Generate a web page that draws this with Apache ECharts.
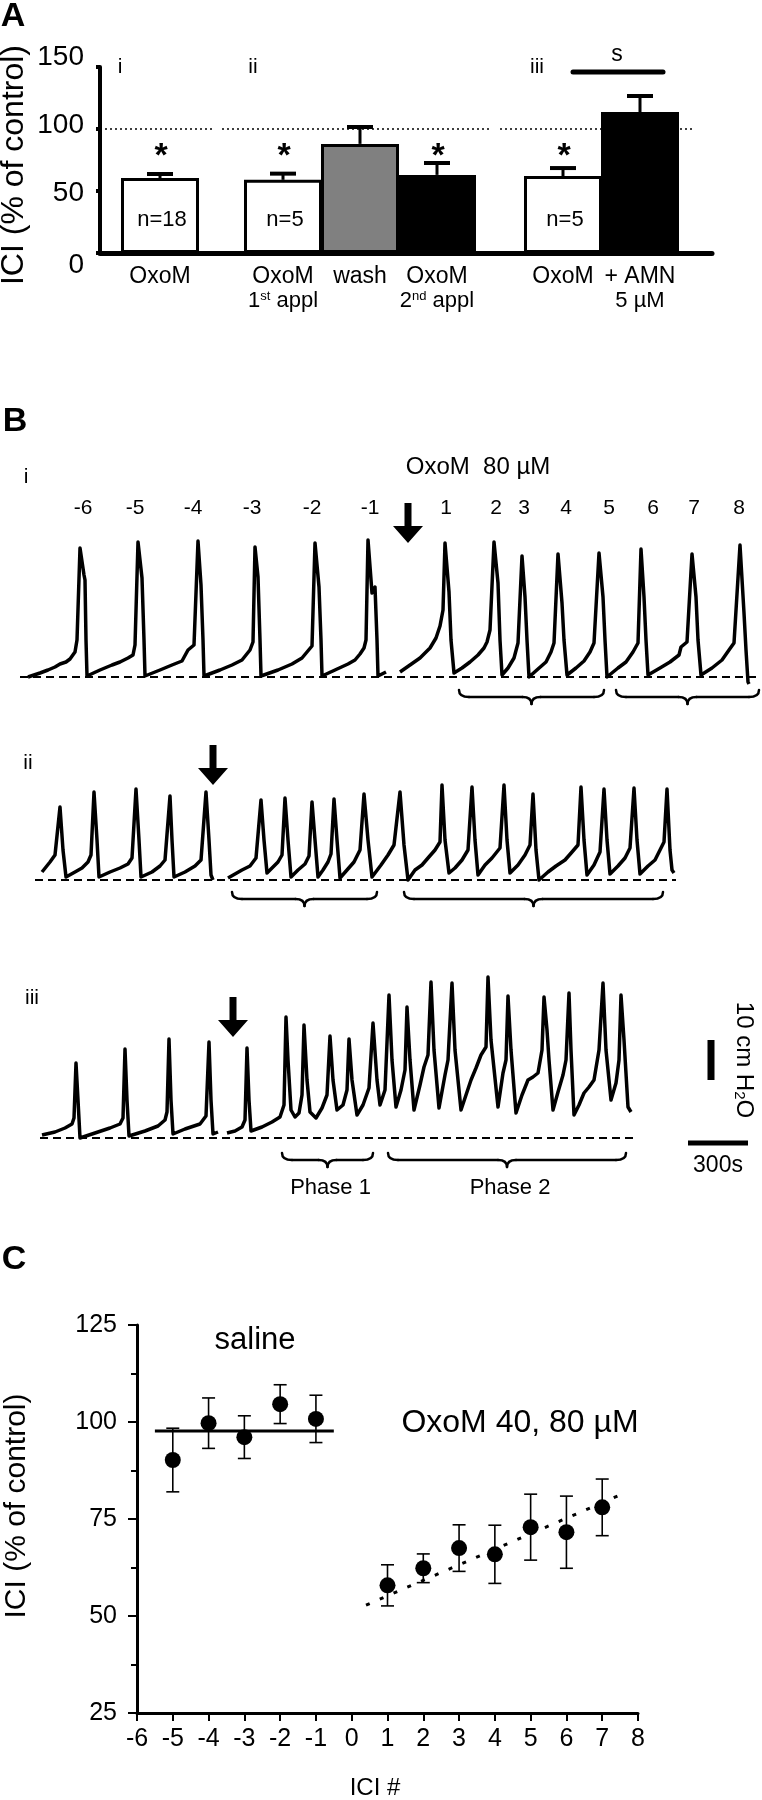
<!DOCTYPE html>
<html><head><meta charset="utf-8">
<script src="https://cdn.jsdelivr.net/npm/echarts@6/dist/echarts.min.js"></script>
<style>html,body{margin:0;padding:0;background:#fff}#c{width:762px;height:1800px}</style>
</head><body><div id="c"></div>
<script>
// ---------------- Panel A data ----------------
const aCategories = ['OxoM', 'OxoM\n1st appl', 'wash', 'OxoM\n2nd appl', 'OxoM', '+ AMN\n5 µM'];
const aMeans = [60.5, 59, 88, 63, 62, 113.7];
const aErrors = [3.2, 5, 13.6, 9.6, 6.5, 12.9];
const aN = ['n=18', 'n=5', '', '', 'n=5', ''];
const aSignificant = [true, true, false, true, true, false];
const aGroups = ['i', 'ii', 'iii'];
const aYTicks = [0, 50, 100, 150];
const aControlLevel = 100;

// ---------------- Panel B data (time s, pressure cmH2O) ----------------
const traceI = [
[40,0],[100,1],[140,1.75],[175,2.5],[200,3.25],[230,3.75],[250,4.5],[275,6.25],[285,9.25],[300,32.25],[320,25.5],[325,24.25],[330,9.25],[335,0.25],
[400,1.75],[460,3],[500,3.75],[540,4.75],[565,5.5],[575,8],[590,33.75],[610,24.75],[620,9.25],[625,0.25],
[700,1.75],[760,3],[810,4],[840,6.75],[870,8],[890,34],[905,23],[915,9.25],[920,0.25],
[1000,1.75],[1060,3],[1110,4.25],[1150,6.75],[1165,8.75],[1175,32.5],[1190,25],[1200,9.25],[1205,0.25],
[1290,1.75],[1360,3.25],[1410,4.75],[1435,6.25],[1460,7.75],[1475,33.5],[1495,22.5],[1505,9.25],[1510,0.25],
[1575,1.75],[1640,3.25],[1675,4.25],[1700,5.75],[1720,7.25],[1730,9.25],[1740,34.25],[1760,21],[1775,22.5],[1785,9.25],[1790,0.25],[1830,1.25],
[1865,'-'],
[1900,1.25],[1950,3],[2000,4.75],[2050,7.25],[2080,9.75],[2100,12.75],[2115,16.75],[2125,33.5],[2145,21.25],[2155,9.25],[2170,1],
[2210,2.25],[2250,3.75],[2290,5.5],[2320,7.25],[2335,8.75],[2350,11.75],[2370,33.75],[2390,23.5],[2400,9.25],[2410,0.5],
[2440,2.25],[2470,4.75],[2490,8.5],[2510,30.25],[2525,20],[2535,9.25],[2545,0],
[2590,2],[2630,3.75],[2655,6.25],[2670,8.5],[2690,30.75],[2710,18.5],[2720,9.25],[2735,0.5],
[2780,2.25],[2820,4],[2850,6.25],[2870,8.5],[2895,31],[2915,20],[2925,9.25],[2935,0],
[2990,2.25],[3030,3.75],[3065,6.25],[3090,8.5],[3105,32],[3120,20],[3130,9.25],[3140,0.5],
[3200,2.25],[3250,3.75],[3295,5.5],[3305,7.5],[3335,8.75],[3360,30.75],[3380,20],[3390,9.25],[3405,0.5],
[3460,2.25],[3510,4.25],[3545,6.75],[3570,8.5],[3600,33],[3620,16],[3630,6.75],[3640,-1.25],[3645,-1.75]
];
const traceII = [
[35,2],[75,4.5],[100,6.25],[125,18.25],[140,7.5],[155,0.75],
[200,2],[235,3],[265,4.5],[280,6.25],[295,22],[310,10],[320,0.75],
[375,2],[425,3],[465,4],[485,5.5],[505,22.75],[520,10],[530,0.75],
[585,2],[625,3.5],[650,5],[675,21],[685,10],[695,0.75],
[750,2],[800,3.5],[830,5],[855,22],[870,10],[880,1.25],[890,0],
[925,'-'],
[965,0.5],[1000,1.5],[1035,2.5],[1075,3.5],[1105,5.5],[1130,20],[1145,10],[1160,1.75],
[1185,3],[1215,4.5],[1235,6.25],[1250,20.5],[1265,10],[1280,0.75],
[1315,2.5],[1350,4],[1370,6],[1385,19.5],[1400,10],[1415,0.75],
[1440,2.5],[1465,4.5],[1480,6.5],[1495,20.25],[1510,10],[1525,0.5],
[1560,2.5],[1595,4.5],[1625,7.5],[1645,21.5],[1665,10],[1685,0.75],
[1730,3.75],[1765,6.25],[1795,8.75],[1825,22],[1845,8.75],[1865,0],
[1900,2.5],[1935,3.75],[1965,5.5],[2000,7.5],[2025,9.5],[2035,23.75],[2050,10],[2070,1.75],
[2100,3],[2135,5],[2165,7.5],[2185,23.25],[2200,10],[2215,1.25],
[2250,3.75],[2285,5.5],[2325,8],[2345,23.75],[2360,10],[2375,1.75],
[2415,3.75],[2450,6.25],[2475,8.75],[2490,21.5],[2505,7.5],[2520,0],
[2565,2],[2605,3.5],[2650,5],[2685,7],[2715,8.75],[2730,23.25],[2745,10],[2760,1.25],
[2795,3.75],[2825,7],[2845,22.75],[2860,10],[2875,1.5],
[2915,3.5],[2950,5.5],[2975,8],[2995,23],[3010,10],[3025,1.5],
[3065,3.5],[3100,5],[3125,7.5],[3145,9.5],[3160,22.75],[3175,7.5],[3185,2.5],[3195,1.75]
];
const traceIII = [
[35,0.75],[100,1.5],[150,2.5],[185,3.5],[195,5],[205,18.75],[215,9.5],[225,0],
[300,1.25],[375,2.5],[425,3.5],[440,5],[450,22.25],[460,9.5],[470,0.5],
[550,1.75],[615,3],[650,4.5],[660,6.5],[670,24.75],[680,9.5],[690,1],
[750,2.25],[825,3.5],[855,5.5],[870,24],[880,9.5],[890,1],[915,1.5],
[940,'-'],
[960,1.25],[1000,1.75],[1035,2.75],[1050,4.5],[1060,22.5],[1070,9.5],[1080,1.75],
[1135,2.75],[1185,4],[1225,5.25],[1245,8.25],[1255,30.25],[1265,19.5],[1280,7],[1300,5.25],
[1320,6.25],[1335,10.75],[1345,28.25],[1360,14.5],[1375,6.5],[1405,5],
[1435,7.5],[1460,10.75],[1475,25.5],[1490,14.5],[1510,7],
[1540,8.25],[1560,12],[1570,24.75],[1585,14.5],[1610,5.75],
[1640,8.25],[1670,12.5],[1690,28.75],[1710,14.5],[1725,8.25],
[1750,12],[1770,35.75],[1785,19.5],[1805,7.75],
[1830,12],[1850,17],[1860,32.75],[1875,19.5],[1895,7],
[1925,13.25],[1945,17.75],[1965,20.75],[1980,39],[1995,22],[2020,7.5],
[2050,15.75],[2065,19.5],[2085,38.75],[2100,22],[2130,7],
[2155,10.75],[2180,14.5],[2205,17.5],[2230,20.75],[2255,22.75],[2265,40.25],[2280,24.5],[2315,7.75],
[2340,16.25],[2355,19.5],[2365,35.5],[2380,22],[2405,6.25],
[2435,10.75],[2465,14.5],[2490,15.25],[2515,16.25],[2535,22],[2545,35.25],[2560,27],[2570,19.5],[2590,7],
[2615,11.5],[2640,15.75],[2655,19.5],[2670,36.25],[2680,22],[2695,5.75],
[2720,8.25],[2745,11.25],[2770,12.75],[2795,14.5],[2820,22],[2840,38.75],[2855,22],[2880,9.5],
[2905,13.75],[2920,19.5],[2930,35.75],[2945,24.5],[2965,7.75],[2980,6.5]
];
const traceLabels = ['i', 'ii', 'iii'];
const cycleLabelsI = ['-6','-5','-4','-3','-2','-1','1','2','3','4','5','6','7','8'];
const cycleTimesI = [315,575,865,1160,1460,1750,2130,2380,2520,2730,2945,3165,3370,3595];
const drugTimes = [1940, 890, 990];
const drugLabel = 'OxoM  80 µM';
const bracesI = [[2195,2920],[2980,3695]];
const bracesII = [[985,1710],[1845,3140]];
const bracesIII = [[1235,1690],[1765,2955]];
const phaseLabels = ['Phase 1', 'Phase 2'];
const scaleBarTime = 300;      // s
const scaleBarPressure = 10;   // cm H2O

// ---------------- Panel C data ----------------
const cSalineX = [-5, -4, -3, -2, -1];
const cSalineMean = [90.2, 99.7, 96.1, 104.6, 100.8];
const cSalineSem = [8.2, 6.5, 5.5, 5.0, 6.1];
const cOxoX = [1, 2, 3, 4, 5, 6, 7];
const cOxoMean = [57.9, 62.3, 67.5, 65.9, 72.9, 71.6, 78.0];
const cOxoSem = [5.3, 3.7, 6.0, 7.5, 8.5, 9.3, 7.3];
const cSalineFit = [[-5.5, 97.7], [-0.5, 97.7]];
const cOxoFit = [[0.4, 52.8], [7.5, 81.2]];
const cXTicks = [-6, 8, 1];
const cYTicks = [25, 125, 25];

// ---------------- layout / style ----------------
const FONT = '"Liberation Sans", Arial, Helvetica, sans-serif';
const aBarCenters = [60, 183, 260, 337, 463, 540];   // px offsets along panel A axis
const aFills = ['#ffffff', '#ffffff', '#808080', '#000000', '#ffffff', '#000000'];
const aDotSegs = [[0, 112], [122, 392], [400, 593]];
const TRACE_W = 3.5;

const chart = echarts.init(document.getElementById('c'), null, {renderer: 'canvas', width: 762, height: 1800});

const hidden = {show: false};
function dotLineData() {
  const d = [];
  aDotSegs.forEach((s, i) => { if (i) d.push([s[0] - 4, '-']); d.push([s[0], aControlLevel], [s[1], aControlLevel]); });
  return d;
}
function errData(xs, m, s) { return xs.map((x, i) => [x, m[i] - s[i], m[i] + s[i]]); }

const option = {
  animation: false,
  backgroundColor: '#fff',
  grid: [
    {left: 100, top: 67, width: 612, height: 186},
    {left: 20, top: 533, width: 740, height: 156},
    {left: 35, top: 736, width: 641, height: 156},
    {left: 35, top: 970, width: 725, height: 180},
    {left: 137, top: 1325, width: 501, height: 388}
  ],
  xAxis: [
    {gridIndex: 0, type: 'value', min: 0, max: 612, axisLine: {show: true, onZero: false, lineStyle: {color: '#000', width: 5}}, axisTick: hidden, axisLabel: hidden, splitLine: hidden},
    {gridIndex: 1, type: 'value', min: 0, max: 3700, show: false},
    {gridIndex: 2, type: 'value', min: 0, max: 3205, show: false},
    {gridIndex: 3, type: 'value', min: 0, max: 3625, show: false},
    {gridIndex: 4, type: 'value', min: cXTicks[0], max: cXTicks[1], interval: cXTicks[2],
     axisLine: {show: true, onZero: false, lineStyle: {color: '#000', width: 3}},
     axisTick: {show: true, length: 8, lineStyle: {color: '#000', width: 2}},
     axisLabel: {show: true, color: '#000', fontSize: 25, fontFamily: FONT, margin: 14},
     splitLine: hidden}
  ],
  yAxis: [
    {gridIndex: 0, type: 'value', min: 0, max: 150, interval: 50,
     axisLine: {show: true, onZero: false, lineStyle: {color: '#000', width: 4}},
     axisTick: {show: true, length: 4, lineStyle: {color: '#000', width: 4}},
     axisLabel: {show: true, margin: 16, formatter: v => '{r' + v + '|' + v + '}',
       rich: {
         r150: {fontSize: 28, fontFamily: FONT, color: '#000', padding: [0, 0, 20, 0]},
         r100: {fontSize: 28, fontFamily: FONT, color: '#000', padding: [0, 0, 8, 0]},
         r50: {fontSize: 28, fontFamily: FONT, color: '#000', padding: [4, 0, 0, 0]},
         r0: {fontSize: 28, fontFamily: FONT, color: '#000', padding: [24, 0, 0, 0]}
       }},
     splitLine: hidden},
    {gridIndex: 1, type: 'value', min: -3, max: 36, show: false},
    {gridIndex: 2, type: 'value', min: -3, max: 36, show: false},
    {gridIndex: 3, type: 'value', min: -3, max: 42, show: false},
    {gridIndex: 4, type: 'value', min: cYTicks[0], max: cYTicks[1], interval: cYTicks[2],
     axisLine: {show: true, onZero: false, lineStyle: {color: '#000', width: 3}},
     axisTick: {show: true, length: 9, lineStyle: {color: '#000', width: 2}},
     minorTick: {show: true, splitNumber: 2, length: 6, lineStyle: {color: '#000', width: 2}},
     axisLabel: {show: true, color: '#000', fontSize: 25, fontFamily: FONT, margin: 20},
     splitLine: hidden, minorSplitLine: hidden}
  ],
  series: [
    // Panel A
    {type: 'line', xAxisIndex: 0, yAxisIndex: 0, data: dotLineData(), symbol: 'none', z: 1,
     lineStyle: {color: '#000', width: 1.5, type: [2, 3]}},
    {type: 'bar', xAxisIndex: 0, yAxisIndex: 0, barWidth: 78, z: 3,
     data: aMeans.map((v, i) => ({value: [aBarCenters[i], v], itemStyle: {color: aFills[i]}})),
     itemStyle: {borderColor: '#000', borderWidth: 3}},
    {type: 'custom', xAxisIndex: 0, yAxisIndex: 0, z: 4,
     data: aMeans.map((v, i) => [aBarCenters[i], v, v + aErrors[i]]),
     encode: {x: 0, y: [1, 2]},
     renderItem: (p, api) => {
       const a = api.coord([api.value(0), api.value(1)]), b = api.coord([api.value(0), api.value(2)]);
       return {type: 'group', children: [
         {type: 'line', shape: {x1: a[0], y1: a[1], x2: b[0], y2: b[1]}, style: {stroke: '#000', lineWidth: 3}},
         {type: 'line', shape: {x1: b[0] - 13, y1: b[1], x2: b[0] + 13, y2: b[1]}, style: {stroke: '#000', lineWidth: 4}}
       ]};
     }},
    // Panel B traces
    {type: 'line', xAxisIndex: 1, yAxisIndex: 1, data: [[0, 0], [3700, 0]], symbol: 'none', z: 2, lineStyle: {color: '#000', width: 2, type: [8, 5]}},
    {type: 'line', xAxisIndex: 1, yAxisIndex: 1, data: traceI, symbol: 'none', z: 3, lineStyle: {color: '#000', width: TRACE_W, join: 'round'}},
    {type: 'line', xAxisIndex: 2, yAxisIndex: 2, data: [[0, 0], [3205, 0]], symbol: 'none', z: 2, lineStyle: {color: '#000', width: 2, type: [8, 5]}},
    {type: 'line', xAxisIndex: 2, yAxisIndex: 2, data: traceII, symbol: 'none', z: 3, lineStyle: {color: '#000', width: TRACE_W, join: 'round'}},
    {type: 'line', xAxisIndex: 3, yAxisIndex: 3, data: [[25, 0], [2990, 0]], symbol: 'none', z: 2, lineStyle: {color: '#000', width: 2, type: [8, 5]}},
    {type: 'line', xAxisIndex: 3, yAxisIndex: 3, data: traceIII, symbol: 'none', z: 3, lineStyle: {color: '#000', width: TRACE_W, join: 'round'}},
    // scale bars
    {type: 'line', xAxisIndex: 3, yAxisIndex: 3, data: [[3265, -1.25], [3265 + scaleBarTime, -1.25]], symbol: 'none', lineStyle: {color: '#000', width: 5, cap: 'butt'}},
    {type: 'line', xAxisIndex: 3, yAxisIndex: 3, data: [[3380, 14.5], [3380, 14.5 + scaleBarPressure]], symbol: 'none', lineStyle: {color: '#000', width: 7, cap: 'butt'}},
    // Panel C
    {type: 'line', xAxisIndex: 4, yAxisIndex: 4, data: cSalineFit, symbol: 'none', z: 3, lineStyle: {color: '#000', width: 3}},
    {type: 'line', xAxisIndex: 4, yAxisIndex: 4, data: cOxoFit, symbol: 'none', z: 3, lineStyle: {color: '#000', width: 3, type: [4, 11]}},
    {type: 'custom', xAxisIndex: 4, yAxisIndex: 4, z: 4,
     data: errData(cSalineX, cSalineMean, cSalineSem).concat(errData(cOxoX, cOxoMean, cOxoSem)),
     encode: {x: 0, y: [1, 2]},
     renderItem: (p, api) => {
       const x = api.value(0);
       const a = api.coord([x, api.value(1)]), b = api.coord([x, api.value(2)]);
       const st = {stroke: '#000', lineWidth: 1.6};
       return {type: 'group', children: [
         {type: 'line', shape: {x1: a[0], y1: a[1], x2: b[0], y2: b[1]}, style: st},
         {type: 'line', shape: {x1: a[0] - 6.5, y1: a[1], x2: a[0] + 6.5, y2: a[1]}, style: st},
         {type: 'line', shape: {x1: b[0] - 6.5, y1: b[1], x2: b[0] + 6.5, y2: b[1]}, style: st}
       ]};
     }},
    {type: 'scatter', xAxisIndex: 4, yAxisIndex: 4, z: 5, symbolSize: 16, itemStyle: {color: '#000', opacity: 1},
     data: cSalineX.map((x, i) => [x, cSalineMean[i]])},
    {type: 'scatter', xAxisIndex: 4, yAxisIndex: 4, z: 5, symbolSize: 16, itemStyle: {color: '#000', opacity: 1},
     data: cOxoX.map((x, i) => [x, cOxoMean[i]])}
  ]
};
chart.setOption(option);

// ---------------- annotations (positions via the chart's own scales) ----------------
const P = (g, pt) => chart.convertToPixel({gridIndex: g}, pt);
const G = [];
function T(x, y, text, size, o) {
  o = o || {};
  const style = {text: text, fontSize: size, fontFamily: FONT, fontWeight: o.bold ? 'bold' : 'normal', fill: '#000',
      align: o.align || 'center', verticalAlign: 'middle', textAlign: o.align || 'center', textVerticalAlign: 'middle'};
  if (o.rich) style.rich = o.rich;
  G.push({type: 'text', x: x, y: y, rotation: o.rot || 0, z: 50, silent: true, style: style});
}
function arrow(x, yTop, yTip) {
  const yh = yTip - 17;
  G.push({type: 'polygon', z: 50, silent: true, shape: {points: [[x - 3.5, yTop], [x + 3.5, yTop], [x + 3.5, yh], [x + 15, yh], [x, yTip], [x - 15, yh], [x - 3.5, yh]]}, style: {fill: '#000'}});
}
function seg(x1, y1, x2, y2, w) {
  G.push({type: 'line', z: 50, silent: true, shape: {x1: x1, y1: y1, x2: x2, y2: y2}, style: {stroke: '#000', lineWidth: w, lineCap: 'round'}});
}
function quad(x1, y1, cx, cy, x2, y2) {
  G.push({type: 'bezierCurve', z: 50, silent: true, shape: {x1: x1, y1: y1, x2: x2, y2: y2, cpx1: cx, cpy1: cy}, style: {stroke: '#000', lineWidth: 2.5, fill: null, lineCap: 'round'}});
}
function brace(x0, x1, y) {
  const m = (x0 + x1) / 2, d = 7, t = 7, yb = y + d;
  quad(x0, y, x0, yb, x0 + 10, yb);
  seg(x0 + 10, yb, m - 9, yb, 2.5);
  quad(m - 9, yb, m, yb, m, yb + t);
  quad(m, yb + t, m, yb, m + 9, yb);
  seg(m + 9, yb, x1 - 10, yb, 2.5);
  quad(x1 - 10, yb, x1, yb, x1, y);
}

// Panel A
T(13, 17, 'A', 34, {bold: true});
T(14, 165, 'ICI (% of control)', 32, {rot: Math.PI / 2});
[[120, 67], [253, 67], [537, 67]].forEach((p, i) => T(p[0], p[1], aGroups[i], 21));
const richCat = {n: {fontSize: 22, fontFamily: FONT, color: '#000'}, s: {fontSize: 13, fontFamily: FONT, color: '#000', verticalAlign: 'top'}};
aCategories.forEach((c, i) => {
  const cx = P(0, [aBarCenters[i], 0])[0];
  const lines = c.split('\n');
  T(cx, 277, lines[0], 23);
  if (lines[1]) {
    const r = lines[1].replace(/^(\d)(st|nd)(.*)$/, '{n|$1}{s|$2}{n|$3}');
    if (r !== lines[1]) T(cx, 301, r, 22, {rich: richCat}); else T(cx, 301, lines[1], 22);
  }
  if (aSignificant[i]) { const p = P(0, [aBarCenters[i], 85]); T(p[0] + 1, p[1] + 9, '*', 34, {bold: true}); }
  if (aN[i]) { const p = P(0, [aBarCenters[i], 27]); T(p[0] + 2, p[1], aN[i], 22); }
});
T(617, 55, 's', 23);
seg(573, 72, 663, 72, 5);

// Panel B
T(15, 422, 'B', 34, {bold: true});
[[26, 477], [28, 763], [32, 998]].forEach((p, i) => T(p[0], p[1], traceLabels[i], 21));
T(478, 467, drugLabel, 24);
cycleTimesI.forEach((t, i) => { const p = P(1, [t, 42.25]); T(p[0], p[1], cycleLabelsI[i], 21); });
[[1, 43.5], [2, 33.75], [3, 35.25]].forEach((a, i) => {
  const top = P(a[0], [drugTimes[i], a[1]]), tip = P(a[0], [drugTimes[i], a[1] - 10]);
  arrow(top[0], top[1], tip[1]);
});
[[1, bracesI, 13], [2, bracesII, 12], [3, bracesIII, 15]].forEach(b => {
  b[1].forEach((r, j) => {
    const a = P(b[0], [r[0], 0]), c = P(b[0], [r[1], 0]);
    brace(a[0], c[0], a[1] + b[2]);
    if (b[0] === 3) T((a[0] + c[0]) / 2 + 3, a[1] + 50, phaseLabels[j], 22);
  });
});
{
  const v = P(3, [3380, 14.5 + scaleBarPressure / 2]);
  T(v[0] + 33, v[1], '{n|10 cm H}{b|2}{n|O}', 24, {rot: -Math.PI / 2,
    rich: {n: {fontSize: 24, fontFamily: FONT, color: '#000'}, b: {fontSize: 15, fontFamily: FONT, color: '#000', verticalAlign: 'bottom'}}});
  const h = P(3, [3265 + scaleBarTime / 2, -1.25]);
  T(h[0], h[1] + 23, '300s', 23);
}

// Panel C
T(14, 1260, 'C', 34, {bold: true});
T(17, 1506, 'ICI (% of control)', 30, {rot: Math.PI / 2});
T(255, 1340, 'saline', 31);
T(520, 1423, 'OxoM 40, 80 µM', 32);
T(375, 1788, 'ICI #', 24);

chart.setOption({graphic: {elements: G}});
</script>
</body></html>
